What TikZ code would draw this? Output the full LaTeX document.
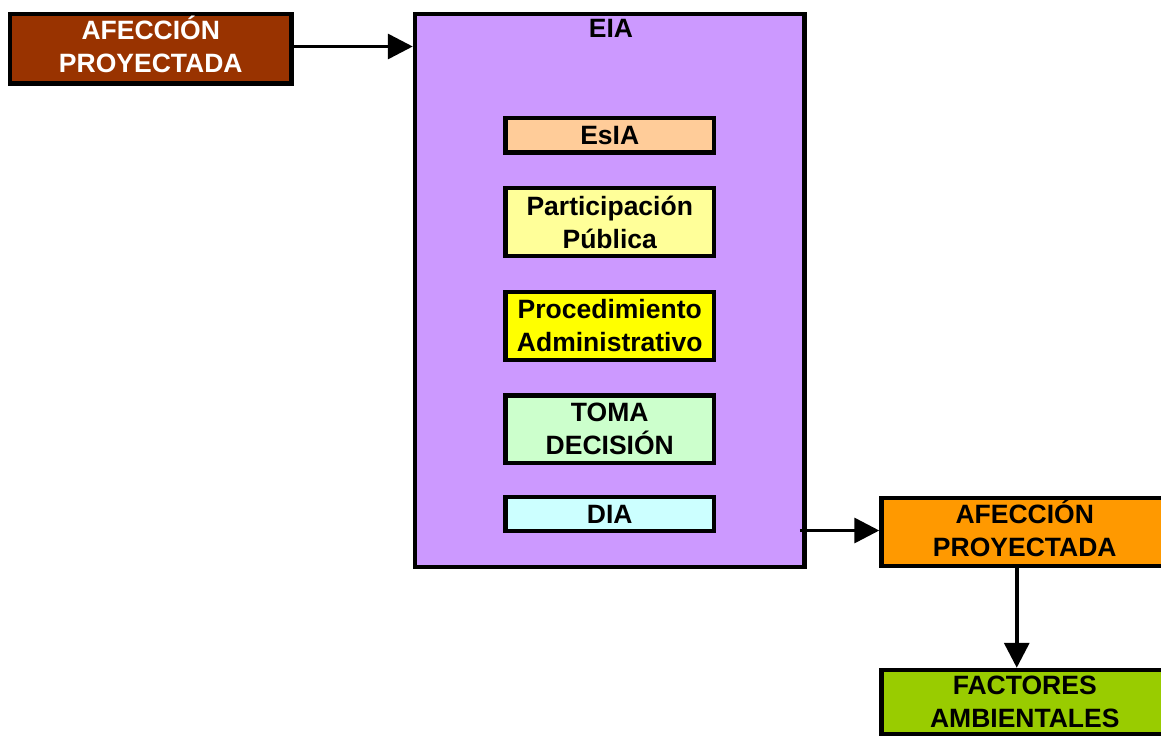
\documentclass[tikz,border=0pt]{standalone}
\usepackage{fontspec}
\setmainfont{Liberation Sans}
\usetikzlibrary{arrows.meta}
\definecolor{cbrown}{HTML}{993300}
\definecolor{cpurple}{HTML}{CC99FF}
\definecolor{cesia}{HTML}{FFCC99}
\definecolor{cpart}{HTML}{FFFF99}
\definecolor{cproc}{HTML}{FFFF00}
\definecolor{ctoma}{HTML}{CCFFCC}
\definecolor{cdia}{HTML}{CCFFFF}
\definecolor{corange}{HTML}{FF9900}
\definecolor{cgreen}{HTML}{99CC00}
\newcommand\lowdepth{\rule[-8pt]{0pt}{8pt}}
\begin{document}
\begin{tikzpicture}[x=1pt,y=-1pt,
  box/.style={draw=black,line width=4.5pt,inner sep=0pt,align=center,
    font=\fontsize{26.5}{33}\selectfont\bfseries},
  conn/.style={line width=3.5pt,-{Triangle[length=25pt,width=25pt]}}]
\useasboundingbox (0,0) rectangle (1161,736);
\node[box,fill=cbrown,text=white,minimum width=281.5pt,minimum height=69.5pt] (afec1) at (150.75,48.75) {AFECCIÓN\\PROYECTADA\lowdepth};
\node[box,fill=cpurple,minimum width=389.5pt,minimum height=553pt] (eia) at (609.75,290.5) {};
\node[font=\fontsize{26.5}{33}\selectfont\bfseries,inner sep=0pt,anchor=base] (eialabel) at (611,37) {EIA};
\node[box,fill=cesia,minimum width=208.5pt,minimum height=34.5pt] (esia) at (609.75,135.25) {EsIA};
\node[box,fill=cpart,minimum width=208.5pt,minimum height=68pt] (part) at (609.75,222) {Participación\\Pública};
\node[box,fill=cproc,minimum width=208.5pt,minimum height=68pt] (proc) at (609.75,326) {Procedimiento\\Administrativo};
\node[box,fill=ctoma,minimum width=208.5pt,minimum height=67.5pt] (toma) at (609.75,429.25) {TOMA\\DECISIÓN};
\node[box,fill=cdia,minimum width=208.5pt,minimum height=34pt] (dia) at (609.75,514) {DIA};
\node[box,fill=corange,minimum width=286.5pt,minimum height=68pt] (afec2) at (1024.75,532) {AFECCIÓN\\PROYECTADA\lowdepth};
\node[box,fill=cgreen,minimum width=286.5pt,minimum height=64pt] (fact) at (1024.75,702) {FACTORES\\AMBIENTALES};
\draw[conn] ([yshift=2.25pt]afec1.east) -- ([yshift=2.25pt]afec1.east -| eia.west);
\draw[conn] ([xshift=-7pt,yshift=1.5pt]eia.east |- afec2.west) -- ([yshift=1.5pt]afec2.west);
\draw[conn] ([xshift=-8pt]afec2.south) -- ([xshift=-8pt]fact.north);
\end{tikzpicture}
\end{document}
